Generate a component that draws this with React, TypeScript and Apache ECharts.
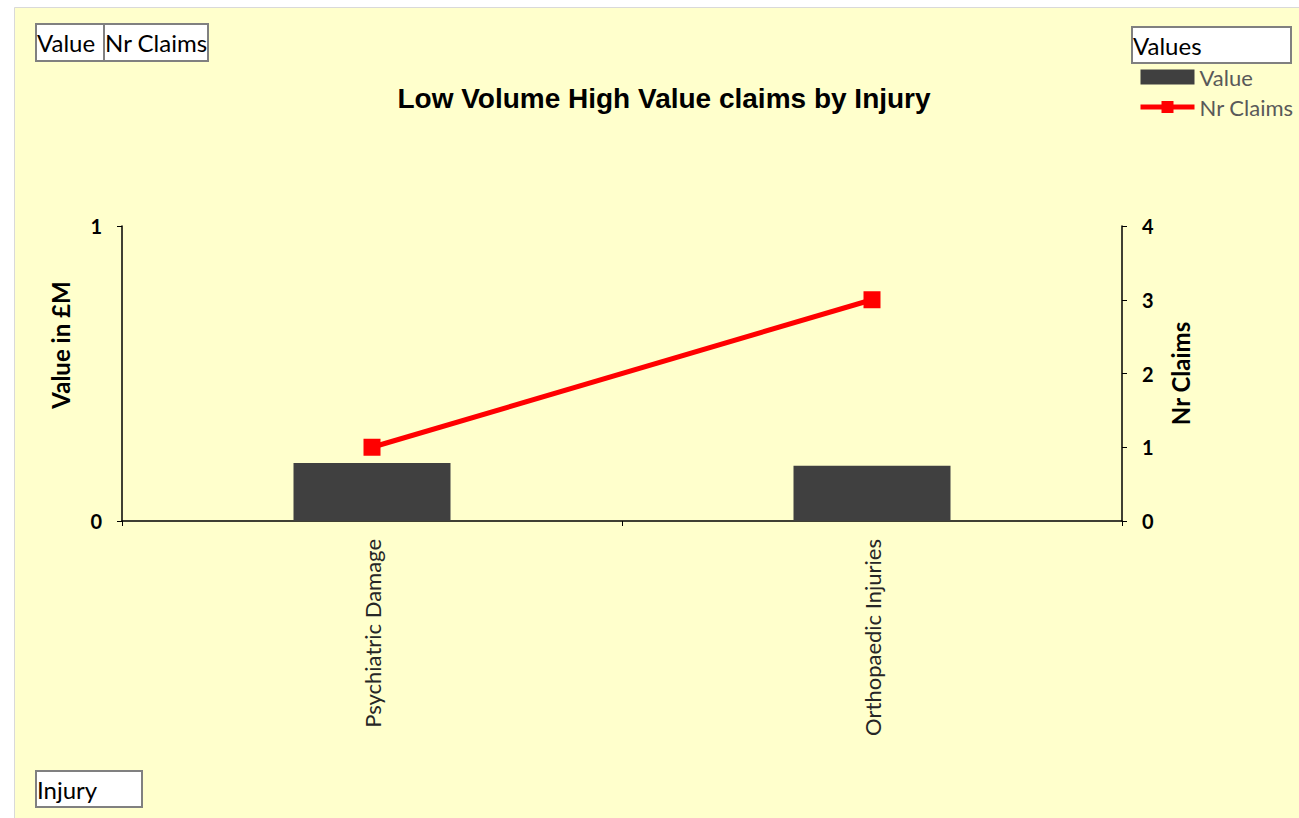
import React, { useEffect, useRef } from "react";
import * as echarts from "echarts";

const categories = ["Psychiatric Damage", "Orthopaedic Injuries"];
const valueSeries = [0.197, 0.187];
const claimsSeries = [1, 3];
const titleText = "Low Volume High Value claims by Injury";
const leftAxisName = "Value in £M";
const rightAxisName = "Nr Claims";

export default function App() {
  const ref = useRef<HTMLDivElement>(null);
  useEffect(() => {
    if (!ref.current) return;
    const chart = echarts.init(ref.current, null, { renderer: "svg" });
    const fieldFont = "Lato, 'Noto Sans', sans-serif";
    const button = (x: number, y: number, w: number, h: number, label: string) => ({
      type: "group",
      children: [
        { type: "rect", shape: { x, y, width: w, height: h }, style: { fill: "#ffffff", stroke: "#808080", lineWidth: 2 } },
        { type: "text", x: x + 1, y: y + h / 2, style: { text: label, fill: "#000000", font: `24px ${fieldFont}`, verticalAlign: "middle" } },
      ],
    });
    chart.setOption({
      animation: false,
      backgroundColor: "#ffffff",
      title: {
        text: titleText,
        left: 659,
        textAlign: "center",
        top: 79,
        textStyle: { fontFamily: "'Liberation Sans', Arial, sans-serif", fontWeight: "bold", fontSize: 28, color: "#000000" },
      },
      graphic: [
        { type: "rect", z: -10, shape: { x: 14.5, y: 7.5, width: 1300, height: 820 }, style: { fill: "#FFFFCC", stroke: "#D9D9D9", lineWidth: 1 } },
        button(36, 24, 68, 37, "Value"),
        button(104, 24, 104, 37, "Nr Claims"),
        button(1132, 27, 159, 36, "Values"),
        button(36, 771, 106, 36, "Injury"),
        {
          type: "text",
          x: 60,
          y: 345,
          rotation: Math.PI / 2,
          style: {
            text: leftAxisName,
            fill: "#000000",
            font: `bold 24px ${fieldFont}`,
            align: "center",
            verticalAlign: "middle",
          },
        },
      ],
      legend: {
        orient: "vertical",
        left: 1133,
        top: 61,
        itemWidth: 54,
        itemHeight: 15,
        itemGap: 8,
        lineStyle: { width: 5 },
        textStyle: { color: "#595959", fontSize: 22, fontFamily: fieldFont, padding: [0, 0, 0, 0] },
        data: [
          { name: "Value", icon: "rect" },
          { name: "Nr Claims" },
        ],
      },
      grid: { left: 122, right: 177, top: 226, bottom: 297 },
      xAxis: {
        type: "category",
        data: categories,
        boundaryGap: true,
        axisLine: { lineStyle: { color: "#000000", width: 1.5 } },
        axisTick: { show: true, length: 5, lineStyle: { color: "#000000" } },
        axisLabel: { rotate: 90, margin: 18, fontSize: 22, color: "#262626", fontFamily: fieldFont },
      },
      yAxis: [
        {
          type: "value",
          min: 0,
          max: 1,
          interval: 1,
          splitLine: { show: false },
          axisLine: { show: true, lineStyle: { color: "#000000", width: 1.5 } },
          axisTick: { show: true, length: 5, lineStyle: { color: "#000000" } },
          axisLabel: { fontSize: 20, fontWeight: "bold", color: "#000000", margin: 20, fontFamily: fieldFont },
        },
        {
          type: "value",
          min: 0,
          max: 4,
          interval: 1,
          name: rightAxisName,
          nameLocation: "middle",
          nameGap: 46,
          nameRotate: 90,
          nameTextStyle: { fontSize: 24, fontWeight: "bold", color: "#000000", fontFamily: fieldFont },
          splitLine: { show: false },
          axisLine: { show: true, lineStyle: { color: "#000000", width: 1.5 } },
          axisTick: { show: true, length: 5, lineStyle: { color: "#000000" } },
          axisLabel: { fontSize: 20, fontWeight: "bold", color: "#000000", margin: 20, fontFamily: fieldFont },
        },
      ],
      series: [
        {
          name: "Value",
          type: "bar",
          data: valueSeries,
          barWidth: "31.4%",
          itemStyle: { color: "#404040" },
        },
        {
          name: "Nr Claims",
          type: "line",
          yAxisIndex: 1,
          data: claimsSeries,
          symbol: "rect",
          symbolSize: 17,
          lineStyle: { color: "#FF0000", width: 5 },
          itemStyle: { color: "#FF0000" },
        },
      ],
    });
    return () => chart.dispose();
  }, []);
  return <div ref={ref} style={{ position: "absolute", left: 0, top: 0, width: 1299, height: 818 }} />;
}
